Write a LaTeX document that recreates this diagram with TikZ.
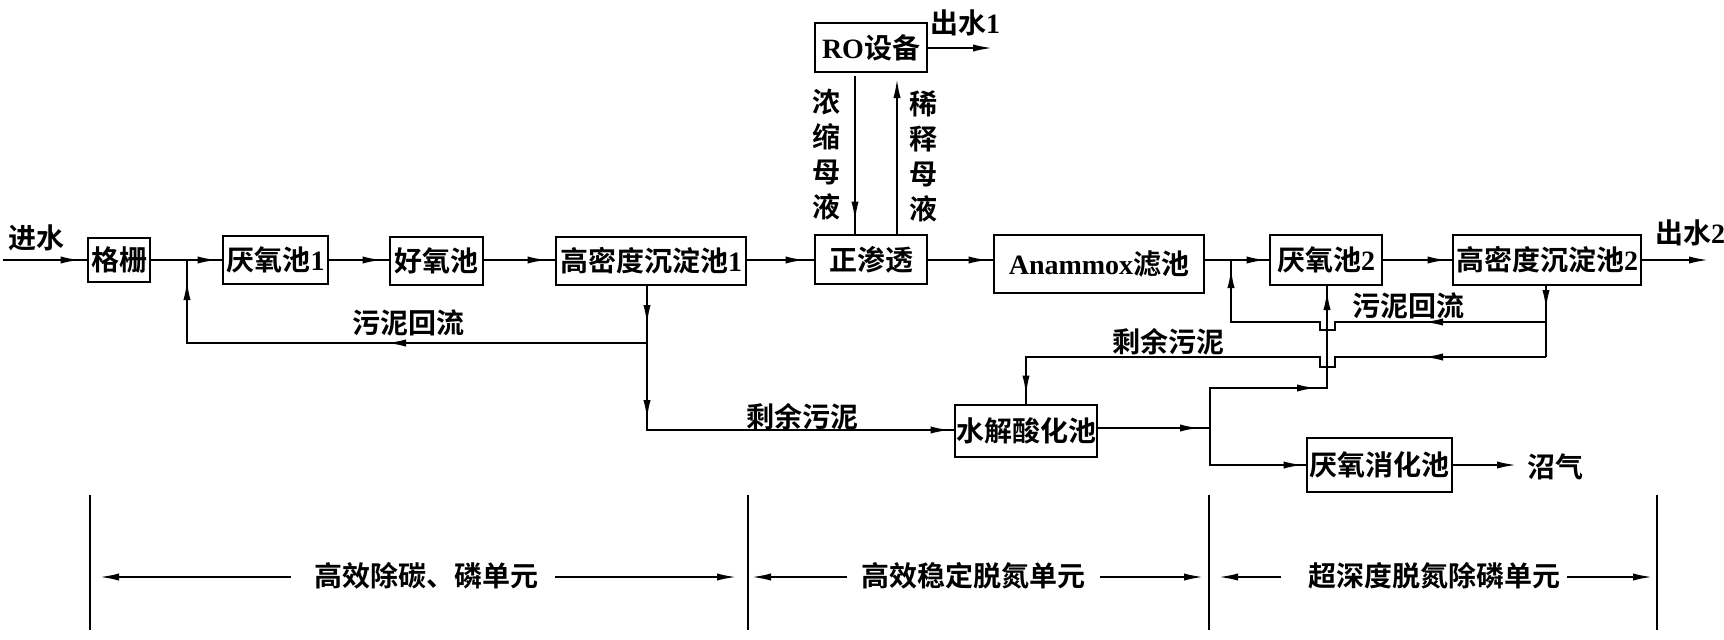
\documentclass[tikz,border=0pt]{standalone}
\usepackage{fontspec}
\setmainfont{Liberation Serif}
\newfontfamily\cjk{Noto Sans CJK SC}[BoldFont={* Bold}]
\usetikzlibrary{arrows.meta,decorations.markings,calc}
\newcommand\atip{\arrow{Latex[length=10pt,width=3.6pt]}}
\begin{document}
\begin{tikzpicture}[x=0.5pt,y=-0.5pt,
  box/.style={draw,line width=1.4pt,inner sep=0pt,font=\fontsize{14}{16}\selectfont\bfseries},
  lbl/.style={inner sep=0pt,font=\fontsize{14}{16}\selectfont\bfseries},
  flow/.style={line width=1.1pt},
  tips/.style={postaction={decorate,decoration={markings,#1}}},
  endtip/.style={-{Latex[length=10pt,width=3.6pt]}},
  divider/.style={line width=0.6pt},
  unitarrow/.style={line width=1.1pt,-{Latex[length=10pt,width=3.6pt]}}
]
\useasboundingbox (0,0) rectangle (1724,639);

% boxes
\node[box,minimum width=31pt,minimum height=22pt] (ggs) at (119,260) {\cjk 格栅};
\node[box,minimum width=52.5pt,minimum height=24pt] (yy1) at (275.5,260) {{\cjk 厌氧池}1};
\node[box,minimum width=46.5pt,minimum height=24pt] (hy) at (436.5,261) {\cjk 好氧池};
\node[box,minimum width=95pt,minimum height=24pt] (gm1) at (651,261) {{\cjk 高密度沉淀池}1};
\node[box,minimum width=56pt,minimum height=24.5pt] (zst) at (871,259.5) {\cjk 正渗透};
\node[box,minimum width=105pt,minimum height=29pt] (ana) at (1099,264) {Anammox{\cjk 滤池}};
\node[box,minimum width=56pt,minimum height=25pt] (yy2) at (1326,260) {{\cjk 厌氧池}2};
\node[box,minimum width=94pt,minimum height=25pt] (gm2) at (1547,260) {{\cjk 高密度沉淀池}2};
\node[box,minimum width=56pt,minimum height=24.5pt] (ro) at (871,47.5) {RO{\cjk 设备}};
\node[box,minimum width=71pt,minimum height=26pt] (sj) at (1026,431) {\cjk 水解酸化池};
\node[box,minimum width=72.5pt,minimum height=27pt] (yxh) at (1379.5,465) {\cjk 厌氧消化池};

% labels
\node[lbl] (tin) at (37,238) {\cjk 进水};
\node[lbl] (tout1) at (965,23) {{\cjk 出水}1};
\node[lbl] (tout2) at (1690,233) {{\cjk 出水}2};
\node[lbl,align=center,font=\fontsize{14}{17.5}\selectfont\bfseries] (tnong) at (826.5,155) {\cjk 浓\\\cjk 缩\\\cjk 母\\\cjk 液};
\node[lbl,align=center,font=\fontsize{14}{17.5}\selectfont\bfseries] (txi) at (923.5,156) {\cjk 稀\\\cjk 释\\\cjk 母\\\cjk 液};
\node[lbl] (thl1) at (408,323) {\cjk 污泥回流};
\node[lbl] (tsy1) at (802,417) {\cjk 剩余污泥};
\node[lbl] (tsy2) at (1168,342) {\cjk 剩余污泥};
\node[lbl] (thl2) at (1408,306) {\cjk 污泥回流};
\node[lbl] (tzq) at (1555,467) {\cjk 沼气};

% free ends
\coordinate (in) at (3,260);
\coordinate (out1) at (993,48);
\coordinate (out2) at (1709,260);
\coordinate (gas) at (1517,465);
\coordinate (j1) at (187,260);
\coordinate (g1b) at (647,285);
\coordinate (c1) at (647,343);
\coordinate (c2) at (647,430);
\coordinate (g2b) at (1546,285);
\coordinate (r1) at (1546,322);
\coordinate (r2) at (1546,357);
\coordinate (j2) at (1231,260);
\coordinate (j3) at (1210,428);
\coordinate (ro1) at (855,76);
\coordinate (ro2) at (897,78);

% main row
\draw[flow,tips={mark=at position -3pt with {\atip}}] (in) -- (ggs.west);
\draw[flow,tips={mark=at position -2pt with {\atip}}] (ggs.east) -- (yy1.west);
\draw[flow,tips={mark=at position -3pt with {\atip}}] (yy1.east) -- (hy.west |- yy1.east);
\draw[flow,tips={mark=at position -3.5pt with {\atip}}] (hy.east |- yy1.east) -- (gm1.west |- yy1.east);
\draw[flow,tips={mark=at position -4pt with {\atip}}] (gm1.east |- yy1.east) -- (zst.west |- yy1.east);
\draw[flow,tips={mark=at position -2pt with {\atip}}] (zst.east |- yy1.east) -- (ana.west |- yy1.east);
\draw[flow,tips={mark=at position -1pt with {\atip}}] (ana.east |- yy1.east) -- (yy2.west);
\draw[flow,tips={mark=at position -2pt with {\atip}}] (yy2.east) -- (gm2.west);
\draw[flow,endtip] (gm2.east) -- (out2);

% RO loop
\draw[flow,endtip] (ro.east |- out1) -- (out1);
\draw[flow,tips={mark=at position -6pt with {\atip}}] (ro1) -- (ro1 |- zst.north);
\draw[flow,endtip] (ro2 |- zst.north) -- (ro2);

% sludge return 1
\draw[flow,tips={mark=at position 20pt with {\atip},mark=at position 159.5pt with {\atip},mark=at position -10pt with {\atip}}]
  (g1b) -- (c1) -- (j1 |- c1) -- (j1);
\draw[flow,tips={mark=at position 38.5pt with {\atip},mark=at position -1.5pt with {\atip}}]
  (c1) -- (c2) -- (sj.west |- c2);

% zone 3 returns
\draw[flow,tips={mark=at position 12.5pt with {\atip}}] (g2b) -- (r2);
\draw[flow,tips={mark=at position 61.5pt with {\atip},mark=at position -4pt with {\atip}}]
  (r1) -- (1335,322) -- (1335,330) -- (1320,330) -- (1320,322) -- (j2 |- r1) -- (j2);
\draw[flow,tips={mark=at position 61.5pt with {\atip},mark=at position -4pt with {\atip}}]
  (r2) -- (1335,357) -- (1335,367) -- (1320,367) -- (1320,357) -- (sj.north |- r2) -- (sj.north);

% hydrolysis outputs
\draw[flow,tips={mark=at position -5pt with {\atip}}] (sj.east |- j3) -- (j3);
\draw[flow,tips={mark=at position 73.5pt with {\atip},mark=at position -2.5pt with {\atip}}]
  (j3) -- (1210,388) -- (1327,388) -- (1327,285);
\draw[flow,tips={mark=at position -1pt with {\atip}}] (j3) -- (1210,465) -- (yxh.west);
\draw[flow,endtip] (yxh.east) -- (gas);

% bottom units
\foreach \x [count=\i] in {90,748,1209,1657} \draw[divider] (\x,495) coordinate (dt\i) -- (\x,630) coordinate (db\i);
\node[lbl] (u1) at (426,576) {\cjk 高效除碳、磷单元};
\node[lbl] (u2) at (973,576) {\cjk 高效稳定脱氮单元};
\node[lbl] (u3) at (1434.5,576) {\cjk 超深度脱氮除磷单元};
\coordinate (a1l) at (291,577); \coordinate (a1le) at (99,577);
\coordinate (a1r) at (555,577); \coordinate (a1re) at (737,577);
\coordinate (a2l) at (847,577); \coordinate (a2le) at (751,577);
\coordinate (a2r) at (1100,577); \coordinate (a2re) at (1204,577);
\coordinate (a3l) at (1281,577); \coordinate (a3le) at (1218,577);
\coordinate (a3r) at (1567,577); \coordinate (a3re) at (1653,577);
\draw[unitarrow] (a1l) -- (a1le);
\draw[unitarrow] (a1r) -- (a1re);
\draw[unitarrow] (a2l) -- (a2le);
\draw[unitarrow] (a2r) -- (a2re);
\draw[unitarrow] (a3l) -- (a3le);
\draw[unitarrow] (a3r) -- (a3re);
\end{tikzpicture}
\end{document}
